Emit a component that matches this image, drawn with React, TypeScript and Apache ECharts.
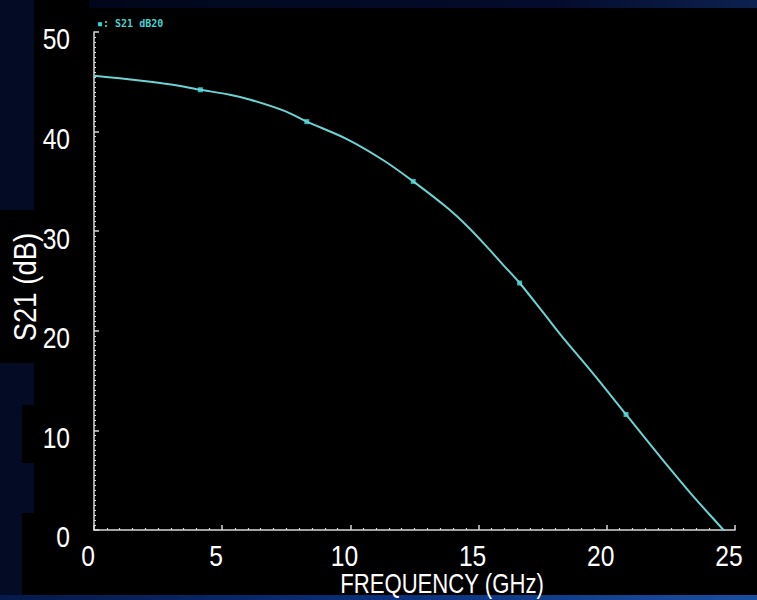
import React, { useEffect, useRef } from "react";
import * as echarts from "echarts";

// Frequency (GHz) and S21 (dB) readings of the trace
const freqGHz = [0, 1.0, 2.2, 3.2, 4.15, 5.3, 6.1, 7.4, 8.3, 9.9, 11.3, 12.45, 13.8, 14.6, 15.3, 16.0, 16.6, 17.5, 18.2, 19.5, 20.75, 22.1, 23.4, 24.55, 25];
const s21dB = [45.6, 45.35, 45.0, 44.65, 44.2, 43.7, 43.2, 42.1, 41.0, 39.2, 37.1, 35.0, 32.3, 30.4, 28.5, 26.5, 24.8, 21.9, 19.6, 15.6, 11.6, 7.3, 3.3, 0, -1.4];

// Marker positions on the trace
const markerFreq = [4.15, 8.3, 12.45, 16.6, 20.75];
const markerDB = [44.2, 41.0, 35.0, 24.8, 11.6];

const xTicks = [0, 5, 10, 15, 20, 25];
const yTicks = [0, 10, 20, 30, 40, 50];

const xTitle = "FREQUENCY (GHz)";
const yTitle = "S21 (dB)";
const legendText = "▪: S21 dB20";

const FONT = '"Liberation Sans", Arial, sans-serif';

export default function App() {
  const ref = useRef<HTMLDivElement>(null);

  useEffect(() => {
    document.body.style.margin = "0";
    if (!ref.current) return;
    const chart = echarts.init(ref.current, undefined, { renderer: "svg" });
    const navy = "#040b24";
    const background: any[] = [
      {
        type: "rect",
        z: -10,
        silent: true,
        shape: { x: 89, y: 0, width: 668, height: 8 },
        style: {
          fill: new echarts.graphic.LinearGradient(0, 0, 1, 0, [
            { offset: 0, color: "#01061a" },
            { offset: 0.7, color: "#040c2c" },
            { offset: 1, color: "#0d2150" },
          ]),
        },
      },
      { type: "rect", z: -10, silent: true, shape: { x: 0, y: 0, width: 34, height: 210 }, style: { fill: navy } },
      { type: "rect", z: -10, silent: true, shape: { x: 0, y: 363, width: 34, height: 42 }, style: { fill: navy } },
      { type: "rect", z: -10, silent: true, shape: { x: 0, y: 405, width: 22, height: 195 }, style: { fill: navy } },
      { type: "rect", z: -10, silent: true, shape: { x: 22, y: 463, width: 12, height: 50 }, style: { fill: navy } },
      {
        type: "rect",
        z: -10,
        silent: true,
        shape: { x: 0, y: 595, width: 757, height: 5 },
        style: {
          fill: new echarts.graphic.LinearGradient(0, 0, 1, 0, [
            { offset: 0, color: "#061a4a" },
            { offset: 0.5, color: "#0a2f7a" },
            { offset: 1, color: "#1a4fa0" },
          ]),
        },
      },
      {
        type: "text",
        x: 97,
        y: 18,
        style: {
          text: legendText,
          fill: "#45d2d2",
          font: 'bold 10px "DejaVu Sans Mono", monospace',
        },
      },
    ];

    const axisColor = "#d8d8d8";
    chart.setOption({
      animation: false,
      backgroundColor: "#000000",
      graphic: background,
      grid: { left: 94, right: 22, top: 32, bottom: 70, containLabel: false },
      xAxis: {
        type: "value",
        min: xTicks[0],
        max: xTicks[xTicks.length - 1],
        interval: 5,
        axisLine: { show: true, lineStyle: { color: axisColor, width: 1.5 } },
        axisTick: { show: true, inside: true, length: 5, lineStyle: { color: axisColor, width: 1.5 } },
        minorTick: { show: true, splitNumber: 10, length: 2, lineStyle: { color: axisColor, width: 1.2 } },
        splitLine: { show: false },
        axisLabel: { show: false },
      },
      yAxis: {
        type: "value",
        min: yTicks[0],
        max: yTicks[yTicks.length - 1],
        interval: 10,
        axisLine: { show: true, lineStyle: { color: axisColor, width: 1.5 } },
        axisTick: { show: true, inside: true, length: 5, lineStyle: { color: axisColor, width: 1.5 } },
        minorTick: { show: true, splitNumber: 20, length: 2, lineStyle: { color: axisColor, width: 1.2 } },
        splitLine: { show: false },
        axisLabel: { show: false },
      },
      series: [
        {
          type: "line",
          data: freqGHz.map((f, i) => [f, s21dB[i]]),
          smooth: 0.3,
          showSymbol: false,
          clip: true,
          lineStyle: { color: "#6cd3d3", width: 2 },
          silent: true,
        },
        {
          type: "scatter",
          data: markerFreq.map((f, i) => [f, markerDB[i]]),
          symbol: "rect",
          symbolSize: [5, 5],
          itemStyle: { color: "#3fe6e6" },
          silent: true,
        },
      ],
    });

    // Tick labels and axis titles in a narrow face, placed through the axes' own scales
    const texts: any[] = [];
    const x0 = chart.convertToPixel({ xAxisIndex: 0 }, 0) as number;
    const y0 = chart.convertToPixel({ yAxisIndex: 0 }, 0) as number;
    const yTop = chart.convertToPixel({ yAxisIndex: 0 }, yTicks[yTicks.length - 1]) as number;
    xTicks.forEach((v) => {
      const px = chart.convertToPixel({ xAxisIndex: 0 }, v) as number;
      texts.push({
        type: "text",
        x: px - 6,
        y: y0 + 26,
        scaleX: 0.82,
        style: { text: String(v), fill: "#ffffff", font: `30px ${FONT}`, textAlign: "center", textVerticalAlign: "middle" },
      });
    });
    yTicks.forEach((v) => {
      const py = chart.convertToPixel({ yAxisIndex: 0 }, v) as number;
      texts.push({
        type: "text",
        x: x0 - 24,
        y: py + 7,
        scaleX: 0.82,
        style: { text: String(v), fill: "#ffffff", font: `30px ${FONT}`, textAlign: "right", textVerticalAlign: "middle" },
      });
    });
    texts.push({
      type: "text",
      x: 442,
      y: y0 + 54,
      scaleX: 0.82,
      style: { text: xTitle, fill: "#ffffff", font: `27px ${FONT}`, textAlign: "center", textVerticalAlign: "middle" },
    });
    texts.push({
      type: "text",
      x: 25,
      y: (y0 + yTop) / 2 + 6,
      rotation: Math.PI / 2,
      scaleX: 0.86,
      style: { text: yTitle, fill: "#ffffff", font: `32px ${FONT}`, textAlign: "center", textVerticalAlign: "middle" },
    });

    chart.setOption({ graphic: background.concat(texts) });
    return () => chart.dispose();
  }, []);

  return <div ref={ref} style={{ width: 757, height: 600 }} />;
}
